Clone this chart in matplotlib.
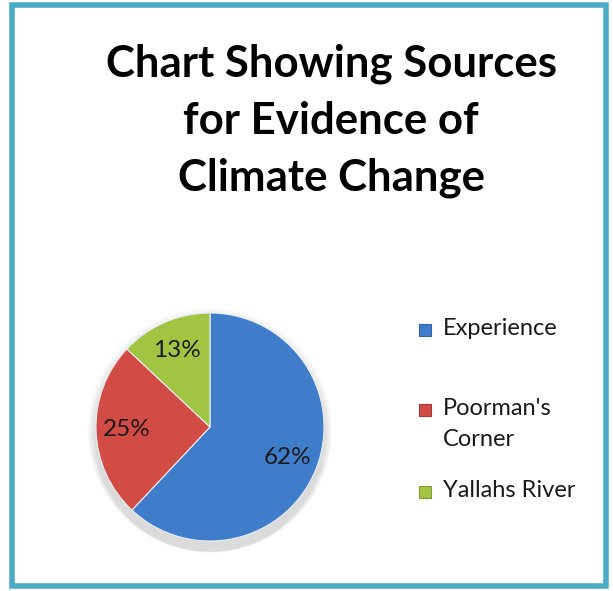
import matplotlib.pyplot as plt
from matplotlib.patches import Rectangle, Circle

labels = ["Experience", "Poorman's\nCorner", "Yallahs River"]
shares = [62, 25, 13]
colors = ["#3F7DCB", "#D24B45", "#A2C443"]
edge_colors = ["#2F64A8", "#A83A36", "#7F9C32"]
title = "Chart Showing Sources\nfor Evidence of\nClimate Change"

W, H = 613, 591
fig = plt.figure(figsize=(W / 100, H / 100), dpi=100)
fig.patch.set_facecolor("white")

# outer frame
fig.patches.append(Rectangle((12 / W, 5 / H), 594 / W, 581 / H,
                             transform=fig.transFigure, fill=False,
                             edgecolor="#4BACC6", linewidth=4))

fig.text(331 / W, 1 - 121 / H, title, ha="center", va="center",
         fontsize=31.5, fontweight="bold", family="Lato",
         linespacing=1.5, color="black")

# pie: centre (210, 428), radius 115 px
cx, cy, r = 210, 427, 114
ax = fig.add_axes([(cx - r) / W, 1 - (cy + r) / H, 2 * r / W, 2 * r / H])
ax.axis("off")

# soft shadow under the pie
for i in range(6):
    ax.add_patch(Circle((0, -0.03 - 0.01 * i), 1.0 + 0.012 * (6 - i),
                        color="black", alpha=0.025, lw=0, zorder=0,
                        clip_on=False))

wedges, texts, autotexts = ax.pie(
    shares, colors=colors, startangle=90, counterclock=False,
    autopct="%.0f%%", pctdistance=0.73, radius=1.0,
    wedgeprops=dict(linewidth=0.8, edgecolor="#e8eef5"),
    textprops=dict(fontsize=17.5, family="Lato", color="#1a1a1a"))
for w in wedges:
    w.set_zorder(2)
    w.set_clip_on(False)
ax.set_xlim(-1.0, 1.0)
ax.set_ylim(-1.0, 1.0)

# legend, laid out like the original
legend_y = [330, 410, 492]
for lab, c, ec, y in zip(labels, colors, edge_colors, legend_y):
    fig.patches.append(Rectangle((419 / W, 1 - (y + 6) / H), 12 / W, 12 / H,
                                 transform=fig.transFigure,
                                 facecolor=c, edgecolor=ec, linewidth=0.8))
    fig.text(443 / W, 1 - (y - 12) / H, lab, ha="left", va="top",
             fontsize=17, family="Lato", color="#1a1a1a", linespacing=1.6)

fig.savefig("out.png", dpi=100)
